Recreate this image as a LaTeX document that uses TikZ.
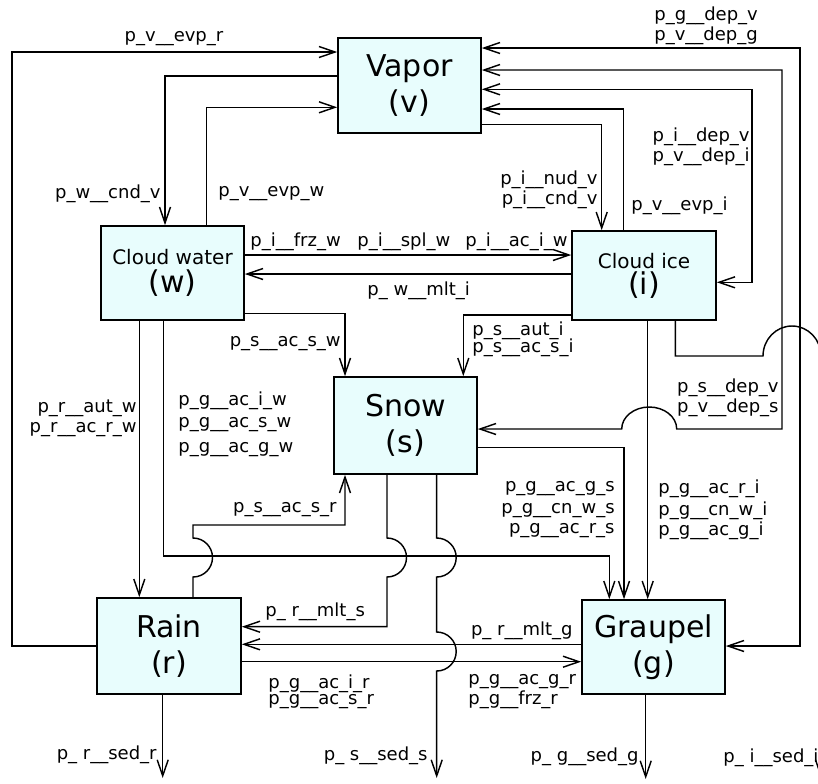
\documentclass[tikz,border=0pt]{standalone}
\usepackage{fontspec}
\setmainfont{DejaVu Sans}
\usetikzlibrary{positioning, arrows.meta}
\definecolor{boxfill}{RGB}{232,253,253}

\begin{document}
\begin{tikzpicture}[x=0.5pt, y=-0.5pt]
  % Define styles for boxes, edges and annotations
  \tikzset{
    procbox/.style={rectangle, draw, line width=0.8pt, fill=boxfill, align=center, inner sep=0pt},
    bigname/.style={font=\fontsize{15}{18}\selectfont},
    flow/.style={draw, line width=0.72pt, -{Straight Barb[length=8pt, width=5.5pt]}},
    biflow/.style={draw, line width=0.72pt, {Straight Barb[length=8pt, width=5.5pt]}-{Straight Barb[length=8pt, width=5.5pt]}},
    annotation/.style={font=\fontsize{9}{10.8}\selectfont, inner sep=0pt}
  }
  \useasboundingbox (0,0) rectangle (818,783);
  \clip (0,0) rectangle (818,783);

  % The six water categories
  \node[procbox, bigname, minimum width=71.5pt, minimum height=47.5pt] (vapor) at (409.5,85.5) {Vapor\\(v)};
  \node[procbox, minimum width=71.5pt, minimum height=47pt] (water) at (172.5,273)
    {\fontsize{10}{12}\selectfont Cloud water\\[2pt]\fontsize{15}{18}\selectfont (w)};
  \node[procbox, minimum width=72pt, minimum height=44.5pt] (ice) at (644,275.5)
    {\fontsize{10}{12}\selectfont Cloud ice\\[1pt]\fontsize{15}{18}\selectfont (i)};
  \node[procbox, bigname, minimum width=71.5pt, minimum height=48.5pt] (snow) at (405.5,425.5) {Snow\\(s)};
  \node[procbox, bigname, minimum width=72pt, minimum height=48pt] (rain) at (169,646) {Rain\\(r)};
  \node[procbox, bigname, minimum width=71.5pt, minimum height=47pt] (graupel) at (653.5,647) {Graupel\\(g)};

  % Free ends of the sedimentation arrows
  \coordinate (rsed) at (162.7,778);
  \coordinate (ssed) at (436.7,778);
  \coordinate (gsed) at (645.7,779);
  \coordinate (ised) at (821,778);

  % Draw the edges connecting the boxes
  \draw[flow] (rain.west |- 0,646) -- (12,646) -- (12,52) -- (vapor.west |- 0,52);
  \draw[flow] (vapor.west |- 0,76) -| (165,0 |- water.north);
  \draw[flow] (206.7,0 |- water.north) |- (vapor.west |- 0,107.3);
  \draw[flow] (vapor.east |- 0,124.3) -| (601.7,0 |- ice.north);
  \draw[flow] (623.3,0 |- ice.north) |- (vapor.east |- 0,109);
  \draw[biflow] (vapor.east |- 0,89.3) -| (752,282.3) -- (ice.east |- 0,282.3);
  \draw[biflow] (vapor.east |- 0,70) -| (782,429) -- (676.7,429)
    arc[start angle=0, end angle=-180, x radius=27.5, y radius=22] -- (snow.east |- 0,429);
  \draw[biflow] (vapor.east |- 0,48) -| (800,646) -- (graupel.east |- 0,646);
  \draw[flow] (water.east |- 0,255) -- (ice.west |- 0,255);
  \draw[flow] (ice.west |- 0,274) -- (water.east |- 0,274);
  \draw[flow] (water.east |- 0,313.3) -| (345,0 |- snow.north);
  \draw[flow] (ice.west |- 0,315) -| (463.3,0 |- snow.north);
  \draw[flow] (139.3,0 |- water.south) -- (139.3,0 |- rain.north);
  \draw[flow] (163.3,0 |- water.south) |- (609.3,556) -- (609.3,0 |- graupel.north);
  \draw[flow] (snow.east |- 0,447.7) -| (624,0 |- graupel.north);
  \draw[flow] (647.7,0 |- ice.south) -- (647.7,0 |- graupel.north);
  \draw[flow] (193,0 |- rain.north) -- (193,577)
    arc[start angle=90, end angle=-90, radius=19.5] -- (193,525) -| (345,0 |- snow.south);
  \draw[flow] (387,0 |- snow.south) -- (387,538)
    arc[start angle=-90, end angle=90, radius=19.5] |- (rain.east |- 0,626.7);
  \draw[flow] (436.7,0 |- snow.south) -- (436.7,538)
    arc[start angle=-90, end angle=90, radius=19.5] -- (436.7,632)
    arc[start angle=-90, end angle=90, radius=19.5] -- (ssed);
  \draw[flow] (graupel.west |- 0,644.3) -- (rain.east |- 0,644.3);
  \draw[flow] (rain.east |- 0,661.7) -- (graupel.west |- 0,661.7);
  \draw[flow] (rain.south -| rsed) -- (rsed);
  \draw[flow] (graupel.south -| gsed) -- (gsed);
  \draw[flow] (675.3,0 |- ice.south) |- (763,356)
    arc[start angle=180, end angle=360, x radius=29, y radius=30] -- (ised);

  % Add annotations next to the edges
  \node[annotation] (lvevpr) at (174,39) {p\_v\_\_evp\_r};
  \node[annotation, anchor=east] (lwcndv) at (161,194) {p\_w\_\_cnd\_v};
  \node[annotation, anchor=west] (lvevpw) at (218,194) {p\_v\_\_evp\_w};
  \node[annotation, anchor=west] (lgdepv) at (654,16) {p\_g\_\_dep\_v};
  \node[annotation, anchor=west] (lvdepg) at (654,36) {p\_v\_\_dep\_g};
  \node[annotation, anchor=east] (lidepv) at (750,137) {p\_i\_\_dep\_v};
  \node[annotation, anchor=east] (lvdepi) at (750,157) {p\_v\_\_dep\_i};
  \node[annotation, anchor=east] (linudv) at (598,180) {p\_i\_\_nud\_v};
  \node[annotation, anchor=east] (licndv) at (598,200) {p\_i\_\_cnd\_v};
  \node[annotation, anchor=west] (lvevpi) at (631,206) {p\_v\_\_evp\_i};
  \node[annotation, anchor=west] (lifrzw) at (250,242) {p\_i\_\_frz\_w};
  \node[annotation, anchor=west] (lisplw) at (357,242) {p\_i\_\_spl\_w};
  \node[annotation, anchor=west] (liaciw) at (465,242) {p\_i\_\_ac\_i\_w};
  \node[annotation, anchor=west] (lwmlti) at (367,291) {p\_ w\_\_mlt\_i};
  \node[annotation, anchor=east] (lsacsw) at (341,344) {p\_s\_\_ac\_s\_w};
  \node[annotation, anchor=west] (lsauti) at (472,331) {p\_s\_\_aut\_i};
  \node[annotation, anchor=west] (lsacsi) at (472,348) {p\_s\_\_ac\_s\_i};
  \node[annotation, anchor=east] (lrautw) at (137,408) {p\_r\_\_aut\_w};
  \node[annotation, anchor=east] (lracrw) at (137,430) {p\_r\_\_ac\_r\_w};
  \node[annotation, anchor=west] (lgaciw) at (178,401) {p\_g\_\_ac\_i\_w};
  \node[annotation, anchor=west] (lgacsw) at (178,425) {p\_g\_\_ac\_s\_w};
  \node[annotation, anchor=west] (lgacgw) at (178,450) {p\_g\_\_ac\_g\_w};
  \node[annotation, anchor=east] (lsacsr) at (337,510) {p\_s\_\_ac\_s\_r};
  \node[annotation, anchor=west] (lrmlts) at (265,612) {p\_ r\_\_mlt\_s};
  \node[annotation, anchor=east] (lsdepv) at (779,388) {p\_s\_\_dep\_v};
  \node[annotation, anchor=east] (lvdeps) at (779,408) {p\_v\_\_dep\_s};
  \node[annotation, anchor=east] (lgacgs) at (615,489) {p\_g\_\_ac\_g\_s};
  \node[annotation, anchor=east] (lgcnws) at (615,511) {p\_g\_\_cn\_w\_s};
  \node[annotation, anchor=east] (lgacrs) at (615,531) {p\_g\_\_ac\_r\_s};
  \node[annotation, anchor=west] (lgacri) at (658,489) {p\_g\_\_ac\_r\_i};
  \node[annotation, anchor=west] (lgcnwi) at (658,511) {p\_g\_\_cn\_w\_i};
  \node[annotation, anchor=west] (lgacgi) at (658,531) {p\_g\_\_ac\_g\_i};
  \node[annotation, anchor=east] (lrmltg) at (573,631) {p\_ r\_\_mlt\_g};
  \node[annotation, anchor=west] (lgacgr) at (468,682) {p\_g\_\_ac\_g\_r};
  \node[annotation, anchor=west] (lgfrzr) at (468,700) {p\_g\_\_frz\_r};
  \node[annotation, anchor=west] (lgacir) at (268,684) {p\_g\_\_ac\_i\_r};
  \node[annotation, anchor=west] (lgacsr) at (268,702) {p\_g\_\_ac\_s\_r};
  \node[annotation, anchor=east] (lrsedr) at (157,755) {p\_ r\_\_sed\_r};
  \node[annotation, anchor=east] (lsseds) at (428,756) {p\_ s\_\_sed\_s};
  \node[annotation, anchor=east] (lgsedg) at (639,757) {p\_ g\_\_sed\_g};
  \node[annotation, anchor=west] (lisedi) at (723,758) {p\_ i\_\_sed\_i};
\end{tikzpicture}
\end{document}
